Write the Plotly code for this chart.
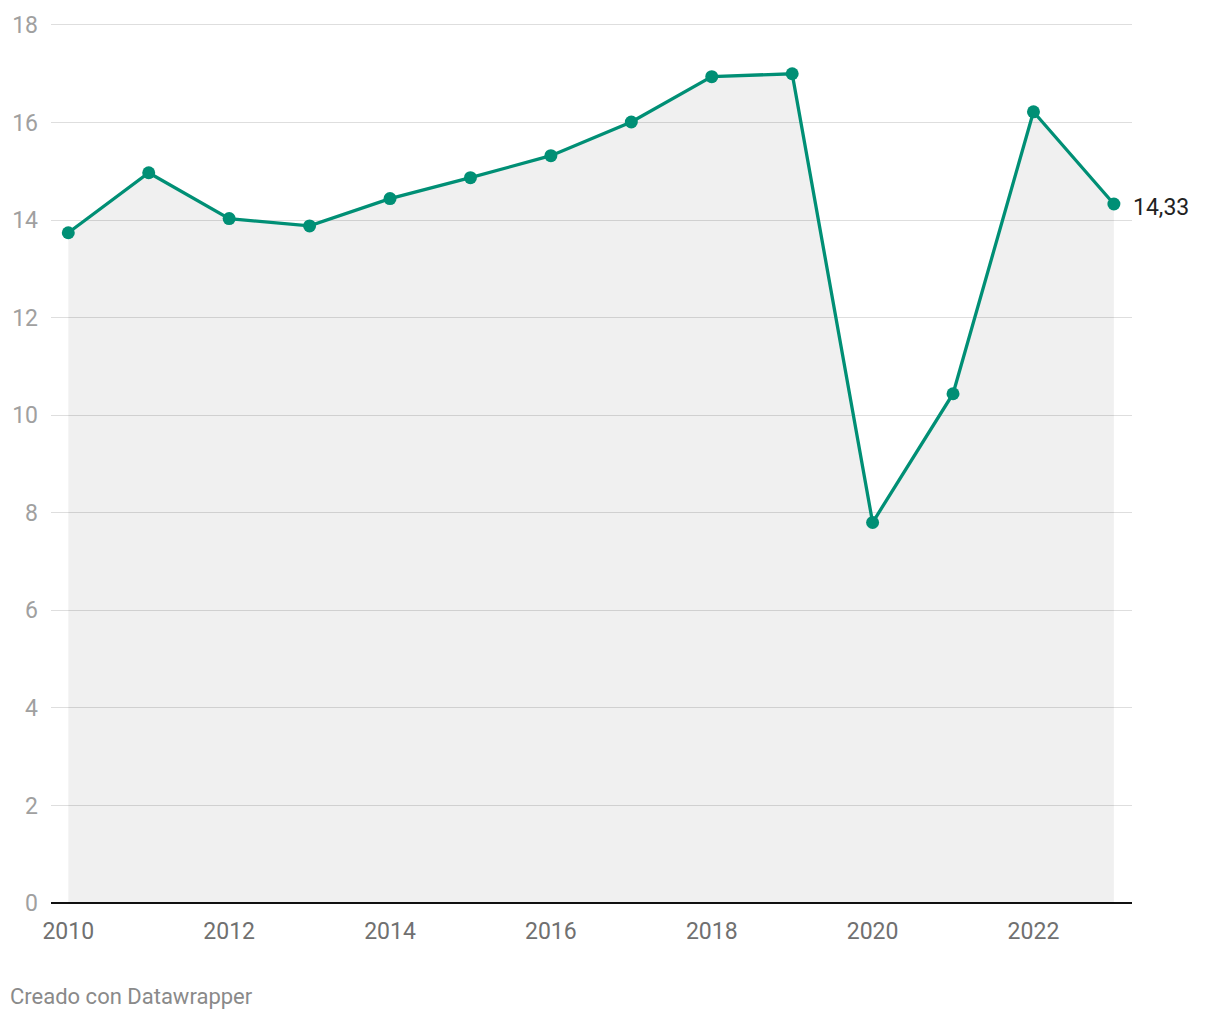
import plotly.graph_objects as go

years = [2010, 2011, 2012, 2013, 2014, 2015, 2016, 2017, 2018, 2019, 2020, 2021, 2022, 2023]
values = [13.74, 14.97, 14.03, 13.88, 14.44, 14.87, 15.32, 16.01, 16.94, 17.00, 7.80, 10.44, 16.22, 14.33]
y_ticks = [0, 2, 4, 6, 8, 10, 12, 14, 16, 18]
x_ticks = [2010, 2012, 2014, 2016, 2018, 2020, 2022]
footer = "Creado con Datawrapper"

line_color = "#008f75"
font = "Roboto"

fig = go.Figure()
fig.add_trace(go.Scatter(
    x=years, y=values, mode="lines+markers",
    line=dict(color=line_color, width=3.3),
    marker=dict(color=line_color, size=13),
    fill="tozeroy", fillcolor="rgba(0,0,0,0.06)",
    hoverinfo="skip", showlegend=False,
))

last_label = f"{values[-1]:.2f}".replace(".", ",")
fig.add_annotation(
    x=years[-1], y=values[-1], text=last_label, showarrow=False,
    xanchor="left", yanchor="middle", xshift=17, yshift=-4,
    font=dict(family=font, size=23, color="#222222"),
)
fig.add_annotation(
    xref="paper", yref="paper", text=footer, showarrow=False,
    xanchor="left", yanchor="bottom", x=-43/1083, y=-108/881,
    font=dict(family=font, size=22, color="#8a8a8a"),
)

fig.update_layout(
    width=1220, height=1020,
    margin=dict(l=49, r=88, t=22, b=117),
    plot_bgcolor="white", paper_bgcolor="white",
    font=dict(family=font),
    xaxis=dict(
        range=[2009.785, 2023.225], tickvals=x_ticks,
        ticktext=[str(t) for t in x_ticks],
        showgrid=False, zeroline=False, showline=False,
        tickfont=dict(family=font, size=23, color="#707070"),
        ticks="", ticklabelstandoff=12,
    ),
    yaxis=dict(
        range=[0, 18.04], tickvals=y_ticks,
        ticktext=[str(t) for t in y_ticks],
        showgrid=True, gridcolor="#dedede", gridwidth=1,
        zeroline=True, zerolinecolor="#111111", zerolinewidth=2,
        showline=False, ticks="",
        tickfont=dict(family=font, size=23, color="#a0a0a0"),
        ticklabelstandoff=12,
    ),
)

fig.write_html("out.html")
